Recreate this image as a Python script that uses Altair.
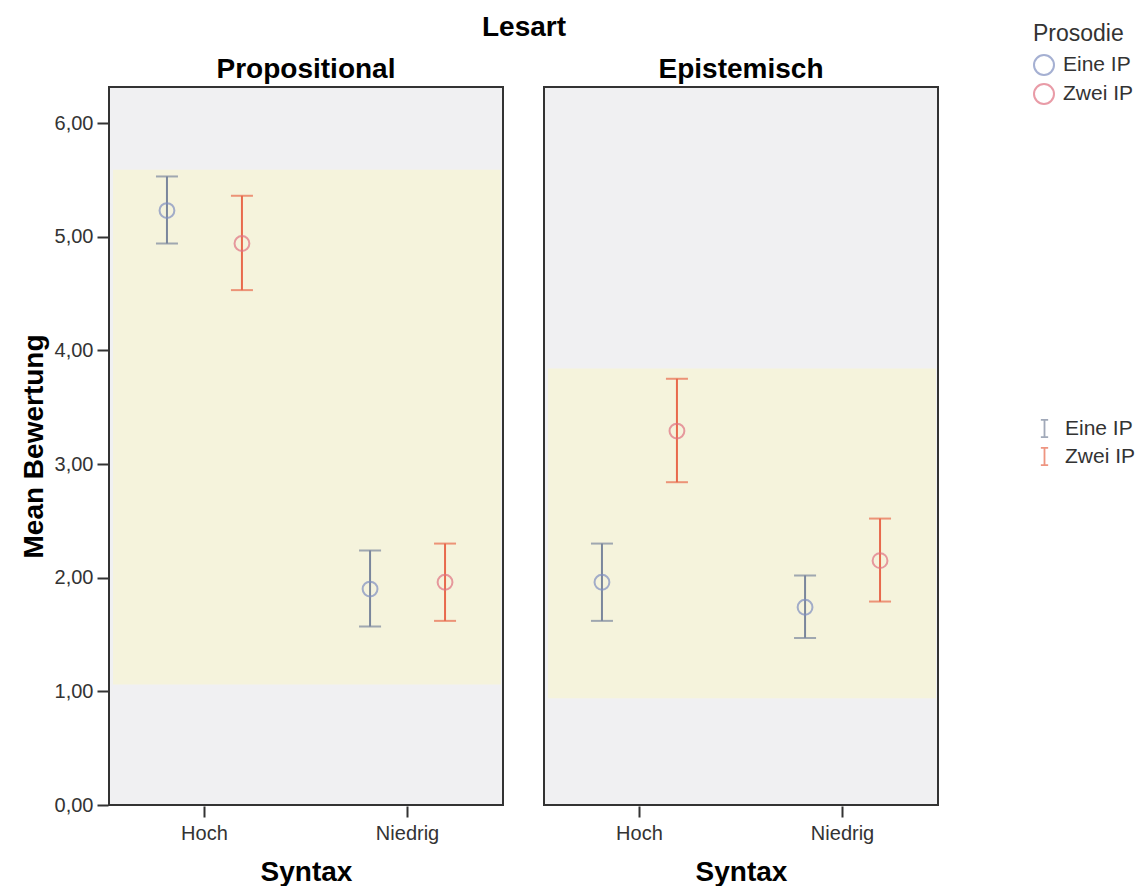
import altair as alt
import pandas as pd

# ---- data ----
lesart = ["Propositional"] * 4 + ["Epistemisch"] * 4
syntax = ["Hoch", "Hoch", "Niedrig", "Niedrig"] * 2
prosodie = ["Eine IP", "Zwei IP"] * 4
mean = [5.23, 4.94, 1.90, 1.96, 1.96, 3.29, 1.74, 2.15]
ci_lo = [4.94, 4.53, 1.57, 1.62, 1.62, 2.84, 1.47, 1.79]
ci_hi = [5.53, 5.36, 2.24, 2.30, 2.30, 3.75, 2.02, 2.52]

band_panels = ["Propositional", "Epistemisch"]
band_lo = [1.06, 0.94]
band_hi = [5.59, 3.84]

panel_order = ["Propositional", "Epistemisch"]
syntax_order = ["Hoch", "Niedrig"]
prosodie_order = ["Eine IP", "Zwei IP"]

pts = pd.DataFrame({"kind": "pt", "Lesart": lesart, "Syntax": syntax,
                    "Prosodie": prosodie, "Bars": prosodie,
                    "mean": mean, "lo": ci_lo, "hi": ci_hi})
bands = pd.DataFrame({"kind": "band", "Lesart": band_panels,
                      "blo": band_lo, "bhi": band_hi})
df = pd.concat([pts, bands], ignore_index=True)

W, H = 394, 718
FONT = "Liberation Sans"

yscale = alt.Scale(domain=[0, 6.317], nice=False, zero=False)
xscale = alt.Scale(type="band", domain=syntax_order, paddingInner=0.06, paddingOuter=0)
xoff_scale = alt.Scale(type="band", domain=prosodie_order, paddingInner=0, paddingOuter=0.273)

yaxis = alt.Axis(values=[0, 1, 2, 3, 4, 5, 6],
                 labelExpr="replace(format(datum.value, '.2f'), '.', ',')",
                 title="Mean Bewertung")

band = alt.Chart().transform_filter(alt.datum.kind == "band").mark_rect(
    color="#f5f3dc"
).encode(
    x=alt.value(4), x2=alt.value(W - 2),
    y=alt.Y("blo:Q", scale=yscale, axis=yaxis),
    y2="bhi:Q",
)

base = alt.Chart().transform_filter(alt.datum.kind == "pt")

xenc = alt.X("Syntax:N", scale=xscale, sort=syntax_order, title="Syntax",
             axis=alt.Axis(labelAngle=0))
xoff = alt.XOffset("Prosodie:N", scale=xoff_scale, sort=prosodie_order)

# data-driven domains (different fields) keep the two legends apart
bar_colors = alt.Scale(range=["#7a869c", "#e8694c"])
pt_colors = alt.Scale(range=["#7f8fc0", "#e07282"])

bar_legend = alt.Legend(
    title=None, orient="none", legendX=925, legendY=331,
    symbolType="M-0.42,-1H0.42M0,-1V1M-0.42,1H0.42",
    symbolSize=300, symbolStrokeWidth=1.8,
    symbolFillColor="transparent",
    labelFontSize=21, labelColor="#333333", labelOffset=10, rowPadding=3)

bar_color = alt.Color("Bars:N", scale=bar_colors, sort=prosodie_order, legend=bar_legend)

rules = base.mark_rule(strokeWidth=2).encode(
    x=xenc, xOffset=xoff,
    y=alt.Y("lo:Q", scale=yscale, axis=yaxis), y2="hi:Q",
    color=bar_color,
)
caps_lo = base.mark_tick(size=22, thickness=2).encode(
    x=xenc, xOffset=xoff,
    y=alt.Y("lo:Q", scale=yscale, axis=yaxis),
    color=bar_color,
)
caps_hi = base.mark_tick(size=22, thickness=2).encode(
    x=xenc, xOffset=xoff,
    y=alt.Y("hi:Q", scale=yscale, axis=yaxis),
    color=bar_color,
)

points = base.mark_point(shape="circle", size=220, strokeWidth=2, filled=False).encode(
    x=xenc, xOffset=xoff,
    y=alt.Y("mean:Q", scale=yscale, axis=yaxis),
    stroke=alt.Stroke("Prosodie:N", scale=pt_colors, sort=prosodie_order,
                      legend=alt.Legend(
                          title="Prosodie", orient="none", legendX=924, legendY=-64,
                          symbolType="circle", symbolSize=400, symbolStrokeWidth=2,
                          symbolFillColor="transparent",
                          titleFontSize=23, titleFontWeight="normal", titleColor="#333333",
                          titlePadding=8,
                          labelFontSize=21, labelColor="#333333", labelOffset=8,
                          rowPadding=1)),
)

layered = alt.layer(band, rules, caps_lo, caps_hi, points, data=df).properties(
    width=W, height=H
)

chart = layered.facet(
    column=alt.Column("Lesart:N", sort=panel_order, title="Lesart",
                      header=alt.Header(titleFontSize=28, titleFontWeight="bold",
                                        titleColor="#000000", titlePadding=4,
                                        labelFontSize=28, labelFontWeight="bold",
                                        labelColor="#000000", labelPadding=2)),
    spacing=39,
).configure(
    font=FONT,
    padding={"left": 20, "top": 14, "right": 0, "bottom": 0},
).configure_view(
    fill="#f0f0f2", stroke="#333333", strokeWidth=2,
).configure_axis(
    grid=False, domain=False, tickColor="#333333", tickWidth=2, tickSize=11,
    labelFontSize=20, labelColor="#333333", labelPadding=4,
    titleFontSize=28, titleFontWeight="bold", titleColor="#000000",
).configure_axisY(
    titlePadding=6,
).configure_axisX(
    labelPadding=6, titlePadding=15,
)

chart.save("out.html", embed_options={"renderer": "svg", "actions": False})
